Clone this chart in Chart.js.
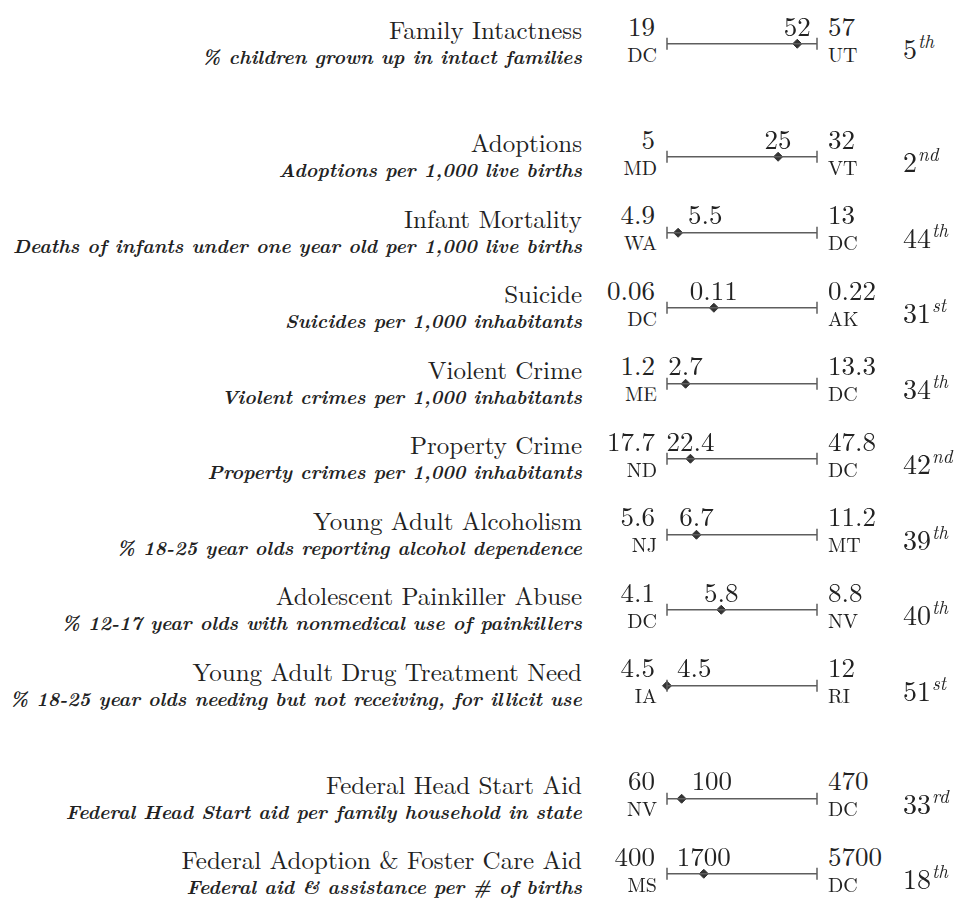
<!DOCTYPE html>
<html>
<head>
<meta charset="utf-8">
<script src="https://cdn.jsdelivr.net/npm/chart.js@4.4.1/dist/chart.umd.min.js"></script>
<style>
    body { margin: 0; background: #fff; width: 963px; height: 900px; position: relative; overflow: hidden;
           font-family: 'Latin Modern Roman', 'Liberation Serif', serif; color: #222; }
    .t { position: absolute; white-space: nowrap; }
    .title { font-size: 25px; line-height: 20px; height: 20px; }
    .sub { font-style: italic; font-weight: bold; font-size: 19.5px; line-height: 14px; height: 14px; }
    .num { font-size: 27px; line-height: 18px; height: 18px; }
    .st { font-size: 20px; line-height: 13px; height: 13px; }
    .rank { font-size: 28px; line-height: 22px; height: 22px; }
    .rank i { font-size: 19px; position: relative; top: -11px; margin-left: 1px; }
    canvas { position: absolute; }
</style>
</head>
<body>
<script>
const titles = ['Family Intactness', 'Adoptions', 'Infant Mortality', 'Suicide', 'Violent Crime', 'Property Crime',
    'Young Adult Alcoholism', 'Adolescent Painkiller Abuse', 'Young Adult Drug Treatment Need',
    'Federal Head Start Aid', 'Federal Adoption & Foster Care Aid'];
const subtitles = ['% children grown up in intact families', 'Adoptions per 1,000 live births',
    'Deaths of infants under one year old per 1,000 live births', 'Suicides per 1,000 inhabitants',
    'Violent crimes per 1,000 inhabitants', 'Property crimes per 1,000 inhabitants',
    '% 18-25 year olds reporting alcohol dependence', '% 12-17 year olds with nonmedical use of painkillers',
    '% 18-25 year olds needing but not receiving, for illicit use',
    'Federal Head Start aid per family household in state', 'Federal aid & assistance per # of births'];
const minVals = [19, 5, 4.9, 0.06, 1.2, 17.7, 5.6, 4.1, 4.5, 60, 400];
const minStates = ['DC', 'MD', 'WA', 'DC', 'ME', 'ND', 'NJ', 'DC', 'IA', 'NV', 'MS'];
const stateVals = [52, 25, 5.5, 0.11, 2.7, 22.4, 6.7, 5.8, 4.5, 100, 1700];
const maxVals = [57, 32, 13, 0.22, 13.3, 47.8, 11.2, 8.8, 12, 470, 5700];
const maxStates = ['UT', 'VT', 'DC', 'AK', 'DC', 'DC', 'MT', 'NV', 'RI', 'DC', 'DC'];
const ranks = [5, 2, 44, 31, 34, 42, 39, 40, 51, 33, 18];
const rankSuffix = ['th', 'nd', 'th', 'st', 'th', 'nd', 'th', 'th', 'st', 'rd', 'th'];
const groupSizes = [1, 8, 2];

// layout
const firstLine = 45, rowStep = 75.5, groupGap = 37.5;
const W = 963;
const canvasLeft = 640, canvasTop = 35;
const numDy = -20.5;

function place(text, cls, x, cy, align) {
    const d = document.createElement('div');
    d.className = 't ' + cls;
    document.body.appendChild(d);
    d.textContent = text;
    const h = parseFloat(getComputedStyle(d).height);
    d.style.top = (cy - h / 2) + 'px';
    if (align === 'right') d.style.right = (W - x) + 'px';
    else if (align === 'center') { d.style.left = x + 'px'; d.style.transform = 'translateX(-50%)'; }
    else d.style.left = x + 'px';
    return d;
}

let rowIndex = 0;
let lineY = firstLine;
groupSizes.forEach((size) => {
    for (let k = 0; k < size; k++) {
        const i = rowIndex;
        place(titles[i], 'title', 582, lineY - 16, 'right');
        place(subtitles[i], 'sub', 582, lineY + 11, 'right');
        place(String(minVals[i]), 'num', 655, lineY + numDy, 'right');
        place(minStates[i], 'st', 657, lineY + 8, 'right');
        place(String(maxVals[i]), 'num', 828, lineY + numDy, 'left');
        place(maxStates[i], 'st', 828, lineY + 8, 'left');
        const r = place(String(ranks[i]), 'rank', 903, lineY + 2, 'left');
        const sup = document.createElement('i');
        sup.textContent = rankSuffix[i];
        r.appendChild(sup);

        const canvas = document.createElement('canvas');
        canvas.width = 200;
        canvas.height = 50;
        canvas.style.left = canvasLeft + 'px';
        canvas.style.top = (lineY - canvasTop) + 'px';
        document.body.appendChild(canvas);

        const chart = new Chart(canvas, {
            type: 'scatter',
            data: {
                datasets: [
                    {
                        data: [{ x: minVals[i], y: 0 }, { x: maxVals[i], y: 0 }],
                        showLine: true,
                        borderColor: '#5e5e5e',
                        borderWidth: 1.7,
                        pointStyle: 'line',
                        rotation: 90,
                        pointRadius: 6,
                        pointBorderWidth: 1.5,
                        pointBorderColor: '#5e5e5e',
                        clip: false
                    },
                    {
                        data: [{ x: stateVals[i], y: 0 }],
                        pointStyle: 'rectRot',
                        pointRadius: 4.5,
                        backgroundColor: '#333',
                        borderColor: '#333',
                        borderWidth: 1,
                        clip: false
                    }
                ]
            },
            options: {
                responsive: false,
                animation: false,
                devicePixelRatio: 1,
                layout: { padding: { left: 27, right: 23, top: 25, bottom: 5 } },
                plugins: { legend: { display: false }, tooltip: { enabled: false } },
                scales: {
                    x: { type: 'linear', min: minVals[i], max: maxVals[i], display: false },
                    y: { min: -1, max: 1, display: false }
                }
            }
        });

        // state value label, placed from the chart's own x scale
        const xs = chart.scales.x;
        const px = canvasLeft + xs.getPixelForValue(stateVals[i]);
        const frac = (stateVals[i] - minVals[i]) / (maxVals[i] - minVals[i]);
        if (frac < 0.1) place(String(stateVals[i]), 'num', px + 10, lineY + numDy, 'left');
        else place(String(stateVals[i]), 'num', px, lineY + numDy, 'center');

        rowIndex++;
        lineY += rowStep;
    }
    lineY += groupGap;
});
</script>
</body>
</html>
